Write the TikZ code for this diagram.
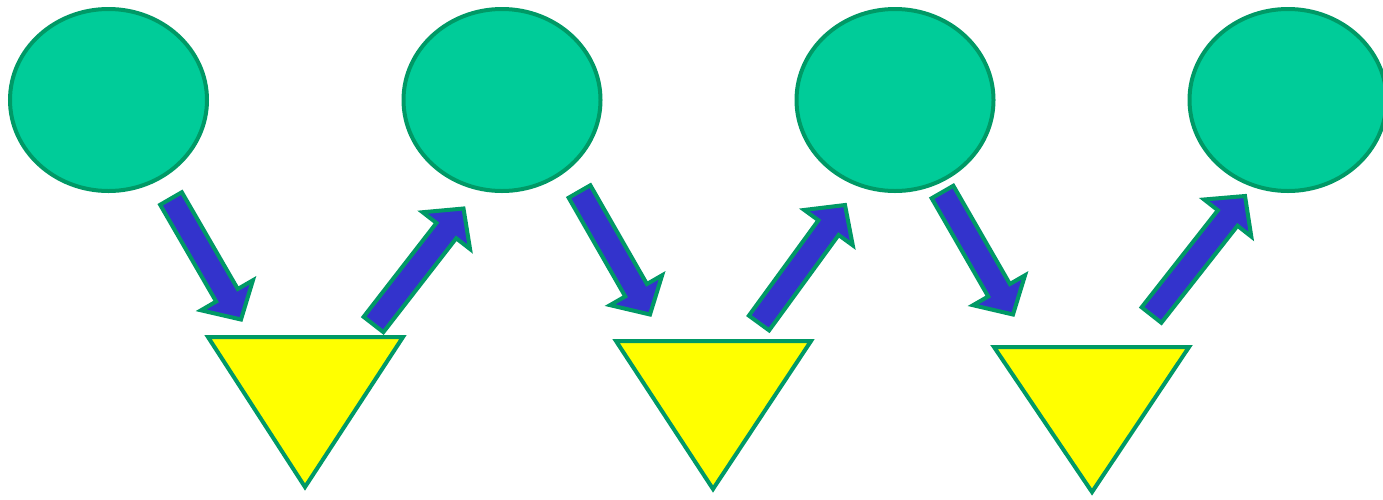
\documentclass[tikz,border=0pt]{standalone}
\usetikzlibrary{calc,shapes.geometric}
\definecolor{tealfill}{HTML}{00CC99}
\definecolor{tealline}{HTML}{009966}
\definecolor{arrowblue}{HTML}{3333CC}
\definecolor{triyellow}{HTML}{FFFF00}
\tikzset{
  blob/.style={ellipse, draw=tealline, fill=tealfill, line width=4pt, minimum width=197pt, minimum height=182pt, inner sep=0pt},
  tri/.style={draw=tealline, fill=triyellow, line width=4pt, line join=miter},
  barrow/.style={draw=tealline, fill=arrowblue, line width=4pt, line join=miter}
}
\newcommand{\blockarrow}[2]{%
  \coordinate (h) at ($(#2)!28pt!(#1)$);
  \draw[barrow] ($(#1)!12.5pt!90:(#2)$) -- ($(h)!12.5pt!90:(#2)$) -- ($(h)!30pt!90:(#2)$) -- (#2)
    -- ($(h)!30pt!-90:(#2)$) -- ($(h)!12.5pt!-90:(#2)$) -- ($(#1)!12.5pt!-90:(#2)$) -- cycle;}
\begin{document}
\begin{tikzpicture}[x=1pt,y=-1pt]
\useasboundingbox (0,0) rectangle (1383,499);
\clip (0,0) rectangle (1383,499);
% ellipses
\node[blob] (c1) at (108.5,100) {};
\node[blob] (c2) at (502,100) {};
\node[blob] (c3) at (895,100) {};
\node[blob] (c4) at (1288,100) {};
% triangles
\draw[tri] (208,337) coordinate (t1a) -- (403,337) coordinate (t1b) -- (305,487) coordinate (t1c) -- cycle;
\draw[tri] (616,341) coordinate (t2a) -- (811,341) coordinate (t2b) -- (713,489) coordinate (t2c) -- cycle;
\draw[tri] (994,347) coordinate (t3a) -- (1189,347) coordinate (t3b) -- (1092,492) coordinate (t3c) -- cycle;
% arrow end points
\coordinate (a1s) at (171,198.5); \coordinate (a1e) at (241,319.5);
\coordinate (a2s) at (373.5,324.5); \coordinate (a2e) at (463.5,208.5);
\coordinate (a3s) at (579.5,191.5); \coordinate (a3e) at (650,314.5);
\coordinate (a4s) at (759,323); \coordinate (a4e) at (845,205);
\coordinate (a5s) at (942.5,192); \coordinate (a5e) at (1013,314.5);
\coordinate (a6s) at (1151.5,315); \coordinate (a6e) at (1245,196);
\blockarrow{a1s}{a1e}
\blockarrow{a2s}{a2e}
\blockarrow{a3s}{a3e}
\blockarrow{a4s}{a4e}
\blockarrow{a5s}{a5e}
\blockarrow{a6s}{a6e}
\end{tikzpicture}
\end{document}
